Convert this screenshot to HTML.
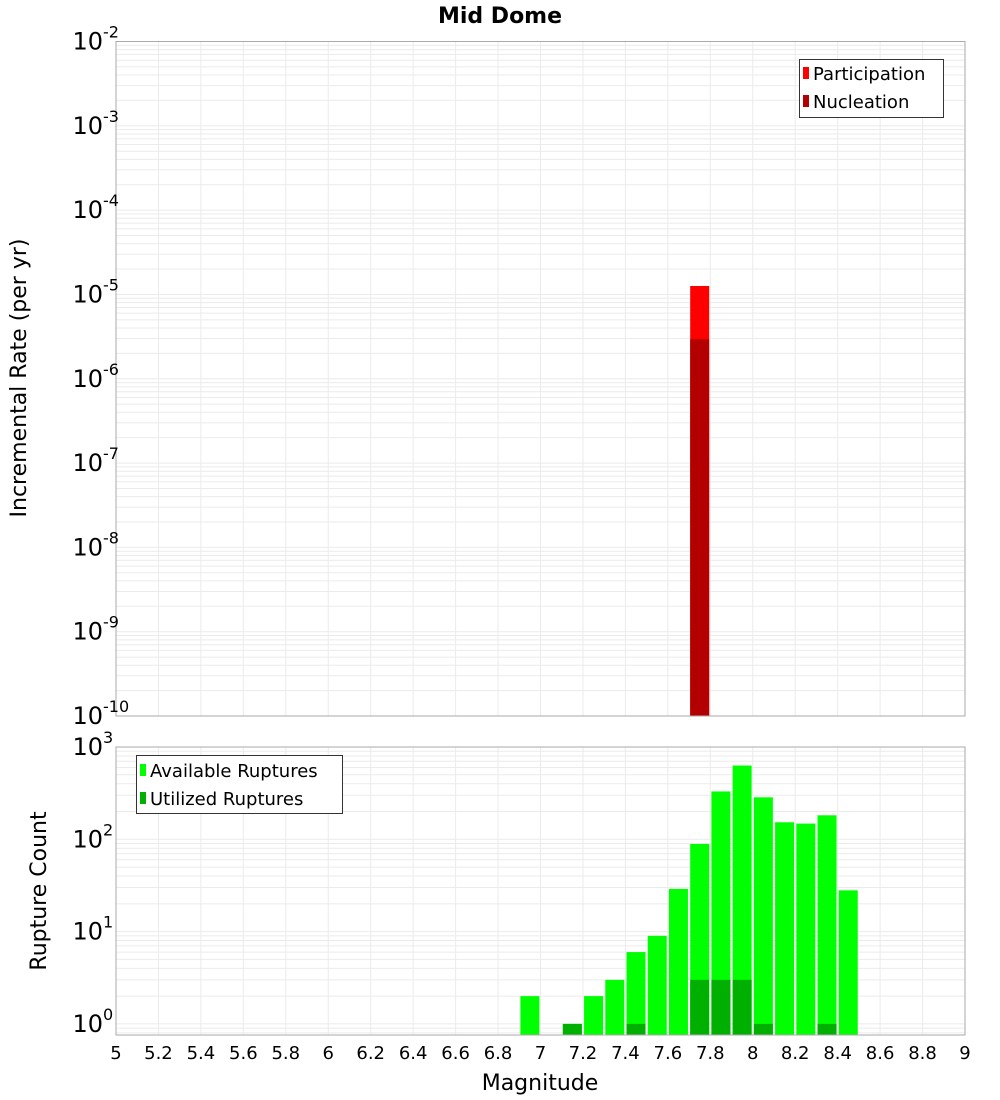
<!DOCTYPE html>
<html><head><meta charset="utf-8"><style>
html,body{margin:0;padding:0;background:#fff}
svg{display:block;font-family:"Liberation Sans","DejaVu Sans",sans-serif}
</style></head><body>
<svg id="chart" width="1000" height="1100" xmlns="http://www.w3.org/2000/svg">
<text x="500" y="23" text-anchor="middle" font-size="22" font-weight="bold" font-family="DejaVu Sans, sans-serif">Mid Dome</text>
<g id="top"></g><g id="bot"></g>
<text transform="translate(26,378) rotate(-90)" text-anchor="middle" font-size="22" font-family="DejaVu Sans, sans-serif">Incremental Rate (per yr)</text>
<text transform="translate(46,891) rotate(-90)" text-anchor="middle" font-size="22" font-family="DejaVu Sans, sans-serif">Rupture Count</text>
<text x="540" y="1090" text-anchor="middle" font-size="22" font-family="DejaVu Sans, sans-serif">Magnitude</text>
<g>
<rect x="799.5" y="59.5" width="144" height="58" fill="#fff" stroke="#333"/>
<rect x="803" y="67" width="6" height="12" fill="#ff0000"/>
<text x="813" y="80" font-size="18" font-family="DejaVu Sans, sans-serif">Participation</text>
<rect x="803" y="95" width="6" height="12" fill="#b30000"/>
<text x="813" y="108" font-size="18" font-family="DejaVu Sans, sans-serif">Nucleation</text>
</g>
<g>
<rect x="136.5" y="755.5" width="206" height="58" fill="#fff" stroke="#333"/>
<rect x="140" y="764" width="6" height="12" fill="#00ff00"/>
<text x="150" y="777" font-size="18" font-family="DejaVu Sans, sans-serif">Available Ruptures</text>
<rect x="140" y="792" width="6" height="12" fill="#00b000"/>
<text x="150" y="805" font-size="18" font-family="DejaVu Sans, sans-serif">Utilized Ruptures</text>
</g>
</svg>
<script>
const rateMags = [7.75];
const participationRates = [1.26e-5];
const nucleationRates = [2.94e-6];
const countMags = [6.95,7.05,7.15,7.25,7.35,7.45,7.55,7.65,7.75,7.85,7.95,8.05,8.15,8.25,8.35,8.45];
const availableCounts = [2,0,1,2,3,6,9,29,89,330,630,285,153,148,182,28];
const utilizedCounts = [0,0,1,0,0,1,0,0,3,3,3,1,0,0,1,0];
const xTicks = ["5","5.2","5.4","5.6","5.8","6","6.2","6.4","6.6","6.8","7","7.2","7.4","7.6","7.8","8","8.2","8.4","8.6","8.8","9"];
const topExps = [-2,-3,-4,-5,-6,-7,-8,-9,-10];
const botExps = [3,2,1,0];

const NS="http://www.w3.org/2000/svg";
const X0=116,X1=965;
const xs=m=>X0+(m-5)/4*(X1-X0);
function mk(p,t,a){const e=document.createElementNS(NS,t);for(const k in a)e.setAttribute(k,a[k]);p.appendChild(e);return e;}
const topG=document.getElementById('top'),botG=document.getElementById('bot');
const TY0=41.5,TY1=716;
const ysTop=v=>TY0+(-2-Math.log10(v))/8*(TY1-TY0);
const BY0=747,BDEC=92.3,BY1=1035;
const ysBot=v=>BY0+(3-Math.log10(v))*BDEC;

function grid(g,y0,y1,ys,expLo,expHi){
  for(let e=expLo;e<expHi;e++)for(let k=1;k<10;k++){const y=ys(k*Math.pow(10,e));if(y>=y0-0.5&&y<=y1+0.5){
    const l=mk(g,'line',{x1:X0,x2:X1,y1:y,y2:y,stroke:'#ebebeb','stroke-width':1});
    
    }}
  xTicks.forEach(t=>{const x=xs(+t);const l=mk(g,'line',{x1:x,x2:x,y1:y0,y2:y1,stroke:'#ebebeb'});
    
    });
}
grid(topG,TY0,TY1,ysTop,-11,-1);
grid(botG,BY0,BY1,ysBot,-1,3);

participationRates.forEach((v,i)=>{const x=xs(rateMags[i]);const y=ysTop(v);
  const r=mk(topG,'rect',{x:x-9.5,y:y,width:19,height:TY1-y,fill:'#ff0000'});
  
  });
nucleationRates.forEach((v,i)=>{const x=xs(rateMags[i]);const y=ysTop(v);
  const r=mk(topG,'rect',{x:x-9.5,y:y,width:19,height:TY1-y,fill:'#b30000'});
  
  });

availableCounts.forEach((v,i)=>{if(v<=0)return;const x=xs(countMags[i]);const y=ysBot(v);
  const r=mk(botG,'rect',{x:x-9.5,y:y,width:19,height:BY1-y,fill:'#00ff00'});
  
  });
utilizedCounts.forEach((v,i)=>{if(v<=0)return;const x=xs(countMags[i]);const y=ysBot(v);
  const r=mk(botG,'rect',{x:x-9.5,y:y,width:19,height:BY1-y,fill:'#00b000'});
  
  });

const f1=mk(topG,'rect',{x:X0,y:TY0,width:X1-X0,height:TY1-TY0,fill:'none',stroke:'#aaa'});


const f2=mk(botG,'rect',{x:X0,y:BY0,width:X1-X0,height:BY1-BY0,fill:'none',stroke:'#aaa'});



function ylab(g,e,y){const t=mk(g,'text',{x:103,y:y+8,'text-anchor':'end','font-size':24,'font-family':'DejaVu Sans, sans-serif'});
  t.textContent='10';
  
  
  const s=mk(g,'text',{x:103,y:y-4,'text-anchor':'start','font-size':16,'font-family':'DejaVu Sans, sans-serif'});
  s.textContent=String(e);
  
  }
topExps.forEach(e=>ylab(topG,e,ysTop(Math.pow(10,e))));
botExps.forEach(e=>ylab(botG,e,ysBot(Math.pow(10,e))));

xTicks.forEach(t=>{const x=xs(+t);const tx=mk(botG,'text',{x:x,y:1059,'text-anchor':'middle','font-size':18,'font-family':'DejaVu Sans, sans-serif'});
  tx.textContent=t;
  
  });
</script>
</body></html>
